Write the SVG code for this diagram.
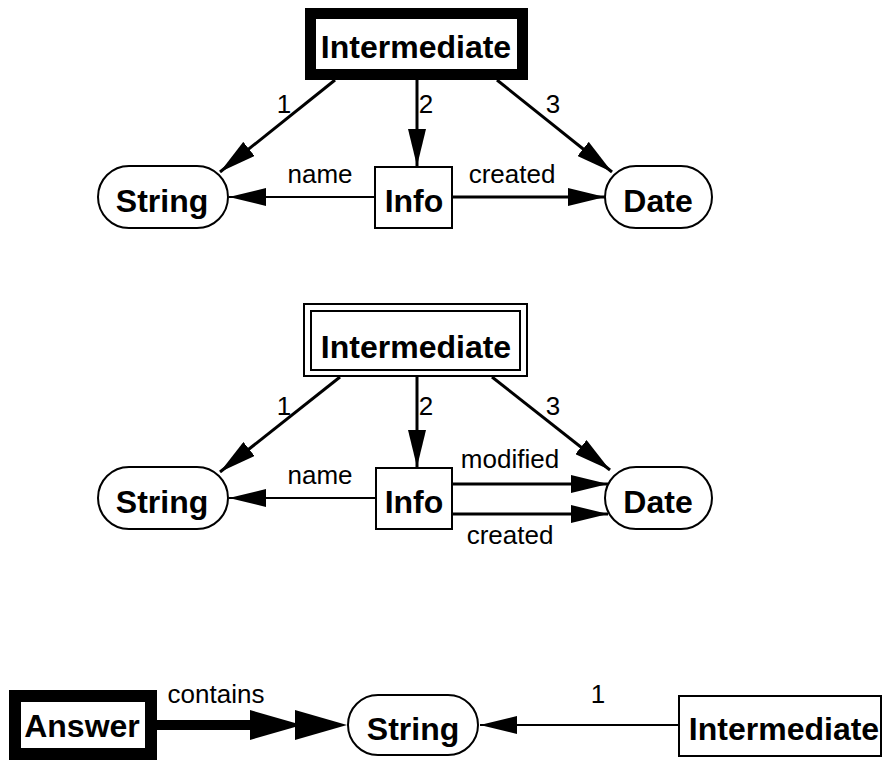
<svg xmlns="http://www.w3.org/2000/svg" width="883" height="761" viewBox="0 0 883 761">
  <style>
    .node { fill: #fff; stroke: #000; stroke-width: 2; }
    .heavy { fill: #fff; stroke: #000; stroke-width: 11; }
    .title { font-family: "Liberation Sans", Arial, sans-serif; font-weight: bold; font-size: 32px; text-anchor: middle; fill: #000; }
    .lbl { font-family: "Liberation Sans", Arial, sans-serif; font-size: 26px; text-anchor: middle; fill: #000; }
    .edge { fill: none; stroke: #000; stroke-width: 3; }
    .thin { stroke-width: 2; }
  </style>
  <defs>
    <marker id="head" markerUnits="userSpaceOnUse" viewBox="0 0 37 18" refX="37" refY="9" markerWidth="37" markerHeight="18" orient="auto">
      <path d="M0,0 L37,9 L0,18 Z" fill="#000"/>
    </marker>
  </defs>

  <!-- connectors -->
  <g id="connectors">
    <!-- upper graph -->
    <line class="edge" x1="335" y1="80" x2="220" y2="172" marker-end="url(#head)"/>
    <line class="edge" x1="417" y1="80" x2="417" y2="166" marker-end="url(#head)"/>
    <line class="edge" x1="497" y1="80" x2="612" y2="172" marker-end="url(#head)"/>
    <line class="edge thin" x1="375" y1="197" x2="229" y2="197" marker-end="url(#head)"/>
    <line class="edge" x1="452" y1="197" x2="605" y2="197" marker-end="url(#head)"/>
    <text class="lbl" x="284" y="113">1</text>
    <text class="lbl" x="426" y="113">2</text>
    <text class="lbl" x="553" y="113">3</text>
    <text class="lbl" x="320" y="183">name</text>
    <text class="lbl" x="512" y="183">created</text>

    <!-- middle graph -->
    <line class="edge" x1="340" y1="377" x2="220" y2="472" marker-end="url(#head)"/>
    <line class="edge" x1="417" y1="377" x2="417" y2="467" marker-end="url(#head)"/>
    <line class="edge" x1="492" y1="377" x2="610" y2="470" marker-end="url(#head)"/>
    <line class="edge thin" x1="377" y1="498" x2="229" y2="498" marker-end="url(#head)"/>
    <line class="edge" x1="452" y1="484" x2="608" y2="484" marker-end="url(#head)"/>
    <line class="edge" x1="452" y1="514" x2="608" y2="514" marker-end="url(#head)"/>
    <text class="lbl" x="284" y="415">1</text>
    <text class="lbl" x="426" y="415">2</text>
    <text class="lbl" x="553" y="415">3</text>
    <text class="lbl" x="320" y="484">name</text>
    <text class="lbl" x="510" y="468">modified</text>
    <text class="lbl" x="510" y="544">created</text>

    <!-- lower graph -->
    <line x1="157" y1="725" x2="260" y2="725" stroke="#000" stroke-width="10"/>
    <path d="M250,710 L302,725 L250,740 Z" fill="#000"/>
    <path d="M295,710 L347,725 L295,740 Z" fill="#000"/>
    <text class="lbl" x="216" y="703">contains</text>
    <line class="edge thin" x1="679" y1="725" x2="480" y2="725" marker-end="url(#head)"/>
    <text class="lbl" x="598" y="703">1</text>
  </g>

  <!-- upper graph nodes -->
  <g id="intermediate-a">
    <rect class="heavy" x="310.5" y="13.5" width="212" height="61"/>
    <text class="title" x="416" y="58">Intermediate</text>
  </g>
  <g id="string-a">
    <rect class="node" x="98" y="166" width="130" height="62" rx="31"/>
    <text class="title" x="162" y="212">String</text>
  </g>
  <g id="info-a">
    <rect class="node" x="375" y="167" width="77" height="61"/>
    <text class="title" x="414" y="212">Info</text>
  </g>
  <g id="date-a">
    <rect class="node" x="605" y="166" width="107" height="62" rx="31"/>
    <text class="title" x="658" y="212">Date</text>
  </g>

  <!-- middle graph nodes -->
  <g id="intermediate-b">
    <rect class="node" x="304" y="304" width="223" height="72"/>
    <rect class="node" x="311" y="311" width="209" height="59"/>
    <text class="title" x="416" y="358">Intermediate</text>
  </g>
  <g id="string-b">
    <rect class="node" x="98" y="467" width="130" height="62" rx="31"/>
    <text class="title" x="162" y="513">String</text>
  </g>
  <g id="info-b">
    <rect class="node" x="376" y="468" width="76" height="61"/>
    <text class="title" x="414" y="513">Info</text>
  </g>
  <g id="date-b">
    <rect class="node" x="605" y="467" width="107" height="62" rx="31"/>
    <text class="title" x="658" y="513">Date</text>
  </g>

  <!-- lower graph nodes -->
  <g id="answer">
    <rect x="15" y="696" width="136" height="58" fill="#fff" stroke="#000" stroke-width="12"/>
    <text class="title" x="82" y="737">Answer</text>
  </g>
  <g id="string-c">
    <rect class="node" x="348" y="695" width="130" height="60" rx="30"/>
    <text class="title" x="413" y="740">String</text>
  </g>
  <g id="intermediate-c">
    <rect class="node" x="679" y="696" width="202" height="60"/>
    <text class="title" x="784" y="740">Intermediate</text>
  </g>
</svg>
